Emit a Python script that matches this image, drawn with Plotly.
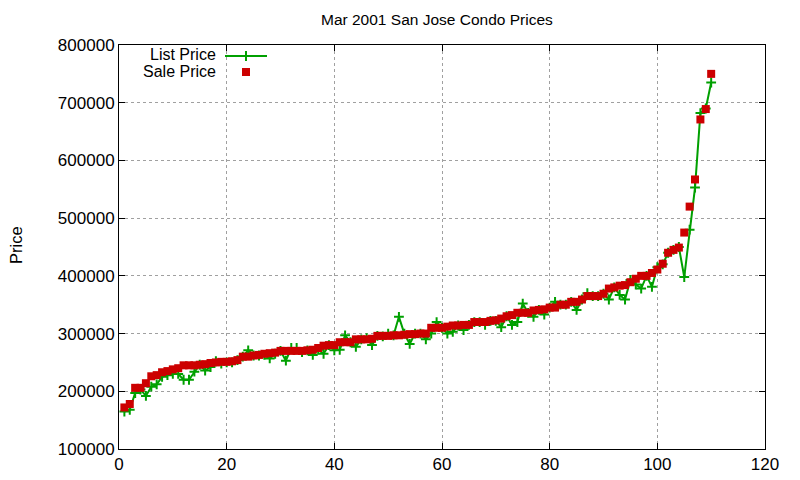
import plotly.graph_objects as go

# listing number (sorted by sale price)
listing = list(range(1, 111))

sale_price = [
    172000, 178000, 206000, 206000, 214000, 226000, 228000, 233000, 235000, 238000,
    240000, 245000, 245000, 245000, 246000, 247000, 249000, 250000, 251000, 251000,
    252000, 254000, 260000, 260000, 262000, 263000, 265000, 266000, 267000, 270000,
    270000, 270000, 270000, 270000, 271000, 272000, 275000, 279000, 280000, 280000,
    285000, 285000, 285000, 290000, 290000, 290000, 291000, 296000, 296000, 296000,
    297000, 297000, 298000, 299000, 299000, 300000, 300000, 310000, 310000, 310000,
    312000, 314000, 314000, 315000, 315000, 320000, 320000, 320000, 322000, 323000,
    326000, 330000, 332000, 336000, 336000, 336000, 340000, 341000, 342000, 345000,
    345000, 350000, 350000, 355000, 355000, 359000, 365000, 365000, 365000, 369000,
    378000, 380000, 383000, 384000, 389000, 395000, 400000, 400000, 405000, 411000,
    421000, 440000, 445000, 449000, 475000, 520000, 567000, 671000, 689000, 750000,
]

list_price = [
    165000, 168000, 197000, 203000, 192000, 208000, 212000, 225000, 228000, 230000,
    230000, 220000, 220000, 234000, 246000, 236000, 242000, 252000, 248000, 250000,
    250000, 254000, 260000, 271000, 262000, 262000, 263000, 257000, 265000, 270000,
    253000, 275000, 275000, 268000, 271000, 263000, 272000, 265000, 280000, 271000,
    272000, 297000, 285000, 277000, 290000, 292000, 280000, 296000, 295000, 300000,
    297000, 329000, 300000, 282000, 300000, 300000, 290000, 300000, 320000, 310000,
    300000, 303000, 314000, 306000, 315000, 320000, 320000, 315000, 322000, 322000,
    311000, 330000, 315000, 320000, 352000, 336000, 329000, 341000, 333000, 345000,
    355000, 350000, 350000, 355000, 341000, 359000, 370000, 365000, 365000, 369000,
    359000, 380000, 367000, 359000, 393000, 385000, 378000, 400000, 381000, 415000,
    420000, 440000, 445000, 450000, 398000, 480000, 553000, 682000, 690000, 735000,
]

GREEN = "#00a000"
RED = "#cc0000"
FONT = "Liberation Sans, Arial, sans-serif"

# the page body has an 8px margin, so the figure is laid out 8px in
OFF = 8
W, H = 800 - OFF, 480 - OFF
# plot box in figure pixels
L, R, T, B = 119 - OFF, 765 - OFF, 45 - OFF, 449 - OFF


def px(x, y):
    # figure pixel -> paper coords
    return (x - L) / (R - L), (B - y) / (B - T)


fig = go.Figure()

fig.add_trace(go.Scatter(
    x=listing, y=list_price, mode="lines+markers", name="List Price",
    line=dict(color=GREEN, width=2),
    marker=dict(symbol="cross-thin", size=7, line=dict(color=GREEN, width=2)),
))
fig.add_trace(go.Scatter(
    x=listing, y=sale_price, mode="markers", name="Sale Price",
    marker=dict(symbol="square", size=8, color=RED, line=dict(width=0)),
))

# gnuplot style key: text on the left, sample on the right (pixel overlay axes)
fig.add_trace(go.Scatter(
    x=[225 - OFF, 267 - OFF], y=[56 - OFF, 56 - OFF], xaxis="x2", yaxis="y2", mode="lines",
    line=dict(color=GREEN, width=2), hoverinfo="skip",
))
fig.add_trace(go.Scatter(
    x=[246 - OFF], y=[56 - OFF], xaxis="x2", yaxis="y2", mode="markers",
    marker=dict(symbol="cross-thin", size=7, line=dict(color=GREEN, width=2)),
    hoverinfo="skip",
))
fig.add_trace(go.Scatter(
    x=[246 - OFF], y=[72 - OFF], xaxis="x2", yaxis="y2", mode="markers",
    marker=dict(symbol="square", size=8, color=RED, line=dict(width=0)),
    hoverinfo="skip",
))

axis_common = dict(
    showline=True, linecolor="black", linewidth=1, mirror="ticks",
    ticks="inside", ticklen=6, tickcolor="black", automargin=False,
    showgrid=True, gridcolor="#a0a0a0", griddash="dot", gridwidth=1,
    zeroline=False, tickfont=dict(family=FONT, size=17, color="black"),
)

title_xy = px(437 - OFF, 20 - OFF)
ylab_xy = px(16 - OFF, 245 - OFF)
key1_xy = px(218 - OFF, 54 - OFF)
key2_xy = px(218 - OFF, 71.5 - OFF)

fig.update_layout(
    width=W, height=H,
    margin=dict(l=L, r=W - R, t=T, b=H - B),
    paper_bgcolor="white", plot_bgcolor="white",
    showlegend=False,
    font=dict(family=FONT, size=16, color="black"),
    xaxis=dict(range=[0, 120], dtick=20, tickformat="d", **axis_common),
    yaxis=dict(range=[100000, 800000], dtick=100000, tickformat="d", **axis_common),
    xaxis2=dict(range=[L, R], overlaying="x", visible=False, fixedrange=True),
    yaxis2=dict(range=[B, T], overlaying="y", visible=False, fixedrange=True),
    annotations=[
        dict(text="Mar 2001 San Jose Condo Prices", xref="paper", yref="paper",
             x=title_xy[0], y=title_xy[1], xanchor="center", yanchor="middle",
             showarrow=False, font=dict(family=FONT, size=15.5)),
        dict(text="Price", xref="paper", yref="paper", textangle=-90,
             x=ylab_xy[0], y=ylab_xy[1], xanchor="center", yanchor="middle",
             showarrow=False, font=dict(family=FONT, size=16.5)),
        dict(text="List Price", xref="paper", yref="paper", height=16,
             x=key1_xy[0], y=key1_xy[1], xanchor="right", yanchor="middle",
             showarrow=False, font=dict(family=FONT, size=16)),
        dict(text="Sale Price", xref="paper", yref="paper", height=16,
             x=key2_xy[0], y=key2_xy[1], xanchor="right", yanchor="middle",
             showarrow=False, font=dict(family=FONT, size=16)),
    ],
)

fig.write_html("out.html")
